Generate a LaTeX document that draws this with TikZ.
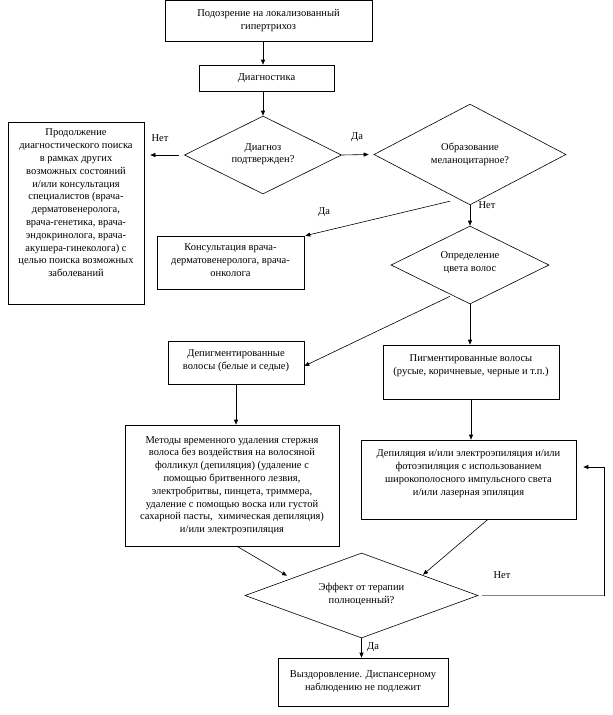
\documentclass[tikz,border=0pt]{standalone}
\usepackage{fontspec}
\setmainfont{Liberation Serif}
\usetikzlibrary{shapes.geometric,arrows.meta,calc}
\begin{document}
\begin{tikzpicture}[x=1pt,y=-1pt,
  every node/.style={font=\fontsize{10.5}{12.8}\selectfont},
  box/.style={draw,line width=0.6pt,inner sep=0pt,align=center},
  dia/.style={draw,diamond,line width=0.6pt,inner sep=0pt,align=center},
  txt/.style={inner sep=0pt,align=center},
  lbl/.style={inner sep=0pt},
  arr/.style={line width=0.6pt,-{Triangle[length=5pt,width=4pt]}},
  ln/.style={line width=0.6pt}]
\useasboundingbox (0,0) rectangle (613,715);
% boxes
\node[box,minimum width=207,minimum height=40.5] (b1) at (268.5,20.75) {Подозрение на локализованный\\гипертрихоз};
\node[box,minimum width=135,minimum height=26] (b2) at (266.5,78) {Диагностика};
\node[dia,minimum width=157,minimum height=78] (d1) at (263,155) {};
\node[txt,font=\fontsize{10.5}{11.5}\selectfont] (d1t) at (263,154) {Диагноз\\подтвержден?};
\node[dia,minimum width=192,minimum height=77] (d2) at (470,154.5) {Образование\\меланоцитарное?};
\node[box,minimum width=136,minimum height=182] (lf) at (76,213) {};
\node[txt] (lft) at (76,203) {Продолжение\\диагностического поиска\\в рамках других\\возможных состояний\\и/или консультация\\специалистов (врача-\\дерматовенеролога,\\врача-генетика, врача-\\эндокринолога, врача-\\акушера-гинеколога) с\\целью поиска возможных\\заболеваний};
\node[box,minimum width=147,minimum height=53] (ks) at (230.5,262.5) {};
\node[txt] (kst) at (230.5,260) {Консультация врача-\\дерматовенеролога, врача-\\онколога};
\node[dia,minimum width=158,minimum height=78] (d3) at (470,265) {};
\node[txt] (d3t) at (470,262.5) {Определение\\цвета волос};
\node[box,minimum width=136,minimum height=43] (dp) at (236,362.5) {};
\node[txt] (dpt) at (236,360.5) {Депигментированные\\волосы (белые и седые)};
\node[box,minimum width=176,minimum height=54] (pg) at (471,372) {};
\node[txt] (pgt) at (471,365.5) {Пигментированные волосы\\(русые, коричневые, черные и т.п.)};
\node[box,minimum width=214,minimum height=121] (mt) at (232,485.5) {};
\node[txt] (mtt) at (232,485.5) {Методы временного удаления стержня\\волоса без воздействия на волосяной\\фолликул (депиляция) (удаление с\\помощью бритвенного лезвия,\\электробритвы, пинцета, триммера,\\удаление с помощью воска или густой\\сахарной пасты,\ \ химическая депиляция)\\и/или электроэпиляция};
\node[box,minimum width=215,minimum height=79] (dl) at (468.5,479.5) {};
\node[txt] (dlt) at (468.5,473.5) {Депиляция и/или электроэпиляция и/или\\фотоэпиляция с использованием\\широкополосного импульсного света\\и/или лазерная эпиляция};
\node[dia,minimum width=233,minimum height=85] (d4) at (361.5,595.5) {};
\node[txt] (d4t) at (361.5,594) {Эффект от терапии\\полноценный?};
\node[box,minimum width=170,minimum height=48] (fn) at (363,682) {};
\node[txt] (fnt) at (363,681.5) {Выздоровление. Диспансерному\\наблюдению не подлежит};
% connectors
\draw[arr] (b1.south -| d1.north) -- (b2.north -| d1.north);
\draw[arr] (b2.south -| d1.north) -- (d1.north);
\draw[arr] ([xshift=-5]d1.west) -- ([xshift=6]lf.east |- d1.west);
\node[lbl] (l1) at (160,138) {Нет};
\draw[arr] (d1.east) -- ([xshift=-5]d2.west);
\node[lbl] (l2) at (357,137) {Да};
\draw[arr] ([shift={(-20,-4)}]d2.south) -- ([xshift=1]ks.north east);
\node[lbl] (l3) at (324,212) {Да};
\draw[arr] (d2.south) -- (d3.north);
\node[lbl] (l4) at (487,205) {Нет};
\draw[arr] ([shift={(-20,-8)}]d3.south) -- ([yshift=-3.5]dp.east);
\draw[arr] (d3.south) -- (d3.south |- pg.north);
\draw[arr] (dp.south) -- (dp.south |- mt.north);
\draw[arr] (pg.south) -- (pg.south |- dl.north);
\draw[arr] ([xshift=5]mt.south) -- ([shift={(-74.5,23)}]d4.north);
\draw[arr] ([xshift=19.5]dl.south) -- ([shift={(61.5,22)}]d4.north);
\coordinate (lp) at ([xshift=126]d4.east);
\draw[gray,line width=1.3pt] ([xshift=4]d4.east) -- (lp);
\draw[arr] (lp) |- ([shift={(7,-12.5)}]dl.east);
\node[lbl] (l5) at (502,575) {Нет};
\draw[arr] (d4.south) -- (d4.south |- fn.north);
\node[lbl] (l6) at (373,647) {Да};
\end{tikzpicture}
\end{document}
